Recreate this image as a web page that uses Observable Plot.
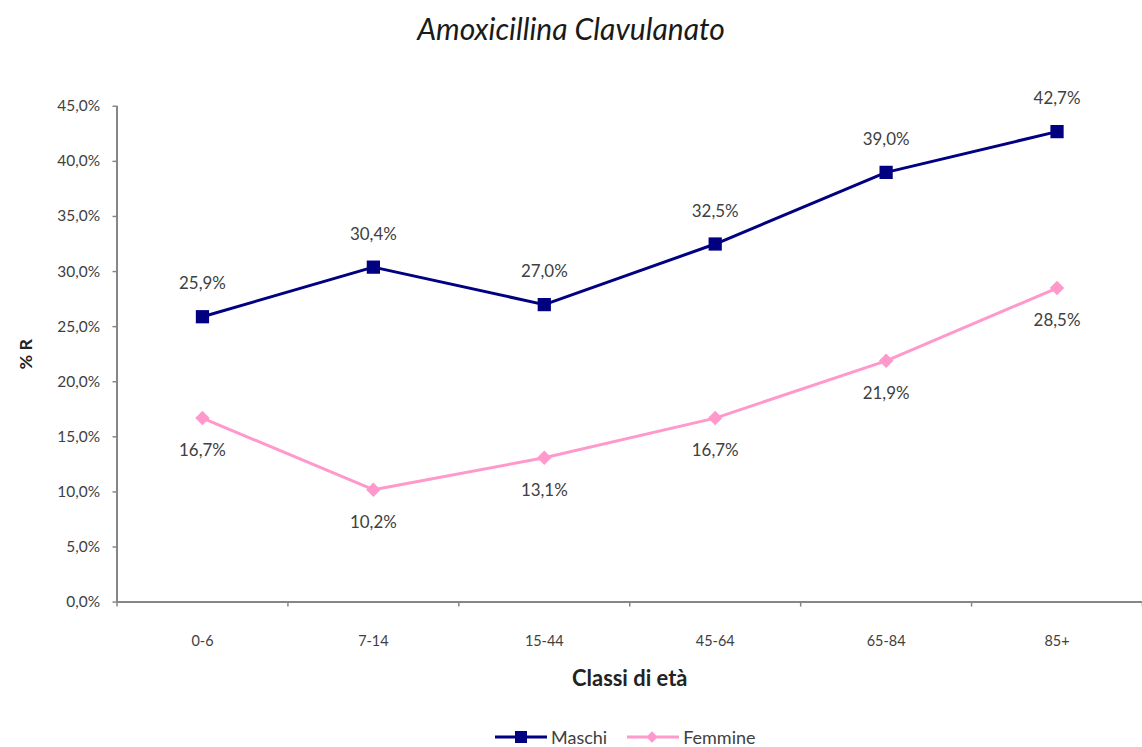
<!DOCTYPE html>
<html><head><meta charset="utf-8">
<script src="https://cdn.jsdelivr.net/npm/d3@7"></script>
<script src="https://cdn.jsdelivr.net/npm/@observablehq/plot@0.6"></script>
<style>
body{margin:0;width:1142px;height:747px;overflow:hidden;background:#fff;font-family:Lato,"Open Sans",sans-serif;position:relative}
#title{position:absolute;left:0;top:11px;width:1142px;text-align:center;font-style:italic;font-size:30px;color:#1a1a1a;line-height:34px}
#chart{position:absolute;left:0;top:56px}
#legend{position:absolute;top:726px;left:495px;display:flex;align-items:center;font-size:18px;color:#404040;height:22px}
#legend .item{display:flex;align-items:center;margin-right:20px}
#legend svg{margin-right:4px}
</style></head>
<body>
<div id="title">Amoxicillina Clavulanato</div>
<div id="chart"></div>
<div id="legend"></div>
<script>
const categories = ["0-6", "7-14", "15-44", "45-64", "65-84", "85+"];
const maschi = [25.9, 30.4, 27.0, 32.5, 39.0, 42.7];
const femmine = [16.7, 10.2, 13.1, 16.7, 21.9, 28.5];
const seriesNames = ["Maschi", "Femmine"];
const seriesColors = ["#000080", "#FF99CC"];
const yTicks = [0, 5, 10, 15, 20, 25, 30, 35, 40, 45];

const fmt = v => v.toFixed(1).replace(".", ",") + "%";
const rowsM = categories.map((c, i) => ({cat: c, i: i + 0.5, value: maschi[i], series: "Maschi"}));
const rowsF = categories.map((c, i) => ({cat: c, i: i + 0.5, value: femmine[i], series: "Femmine"}));
const axisGray = "#868686";
const textGray = "#404040";

const chart = Plot.plot({
  width: 1147,
  height: 660,
  marginLeft: 117,
  marginRight: 0,
  marginTop: 50,
  marginBottom: 112,
  style: {fontFamily: "Lato, 'Open Sans', sans-serif", fontSize: "14px", color: textGray, background: "#fff"},
  x: {type: "linear", domain: [0, categories.length]},
  y: {domain: [0, 45]},
  color: {domain: seriesNames, range: seriesColors},
  marks: [
    Plot.axisY({ticks: yTicks, tickSize: 4, tickPadding: 13, tickFormat: fmt, stroke: axisGray, strokeWidth: 1.5, fill: textGray, fontSize: 15.5, label: "% R", labelAnchor: "center", labelOffset: 98, labelArrow: "none"}),
    Plot.axisX({ticks: d3.range(categories.length + 1), tickSize: 5, tickFormat: () => "", stroke: axisGray, strokeWidth: 1.5, label: null}),
    Plot.axisX({ticks: categories.map((c, i) => i + 0.5), tickSize: 0, tickPadding: 34, tickFormat: v => categories[Math.floor(v)], fill: textGray, fontSize: 14.5, label: "Classi di età", labelAnchor: "center", labelOffset: 84, labelArrow: "none"}),
    Plot.ruleX([0], {stroke: axisGray, strokeWidth: 2}),
    Plot.ruleY([0], {stroke: axisGray, strokeWidth: 2}),
    Plot.line(rowsF, {x: "i", y: "value", stroke: "series", strokeWidth: 3}),
    Plot.dot(rowsF, {x: "i", y: "value", fill: "series", symbol: "square", rotate: 45, r: 5.8, stroke: null}),
    Plot.line(rowsM, {x: "i", y: "value", stroke: "series", strokeWidth: 3}),
    Plot.dot(rowsM, {x: "i", y: "value", fill: "series", symbol: "square", r: 7.5, stroke: null}),
    Plot.text(rowsM, {x: "i", y: "value", text: d => fmt(d.value), dy: -33, fill: textGray, fontSize: 17}),
    Plot.text(rowsF, {x: "i", y: "value", text: d => fmt(d.value), dy: 33, fill: textGray, fontSize: 17})
  ]
});
chart.querySelectorAll("[aria-label='x-axis label'] text").forEach(t => {
  t.setAttribute("font-weight", "bold"); t.setAttribute("font-size", "22"); t.setAttribute("fill", "#222");
});
chart.querySelectorAll("[aria-label='y-axis label'] text").forEach(t => {
  t.setAttribute("font-weight", "bold"); t.setAttribute("font-size", "18"); t.setAttribute("fill", "#222");
});
document.getElementById("chart").append(chart);

const legend = document.getElementById("legend");
seriesNames.forEach((name, k) => {
  const item = document.createElement("div");
  item.className = "item";
  const marker = k === 0
    ? `<rect x="20" y="4" width="12" height="12" fill="${seriesColors[k]}"/>`
    : `<rect x="21" y="6" width="8" height="8" fill="${seriesColors[k]}" transform="rotate(45 25 10)"/>`;
  item.innerHTML = `<svg width="52" height="20"><line x1="0" x2="52" y1="10" y2="10" stroke="${seriesColors[k]}" stroke-width="3"/>${marker}</svg><span>${name}</span>`;
  legend.append(item);
});
</script>
</body></html>
